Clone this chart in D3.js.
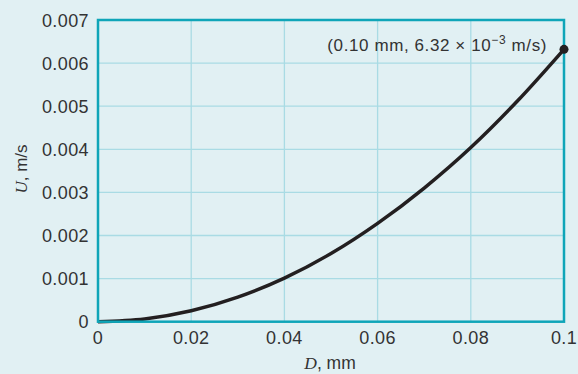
<!DOCTYPE html>
<html><head><meta charset="utf-8">
<script src="https://cdn.jsdelivr.net/npm/d3@7/dist/d3.min.js"></script>
<style>
html,body{margin:0;padding:0;background:#e1f0f3;}
svg{display:block;}
text{font-family:"Liberation Sans",Arial,sans-serif;fill:#333333;}
</style></head>
<body>
<svg id="c" width="578" height="374"></svg>
<script>
const dValues = [0, 0.01, 0.02, 0.03, 0.04, 0.05, 0.06, 0.07, 0.08, 0.09, 0.10];
const uValues = [0, 0.0000632, 0.000253, 0.000569, 0.00101, 0.00158, 0.00228, 0.0031, 0.00404, 0.00512, 0.00632];
const xTicks = [0, 0.02, 0.04, 0.06, 0.08, 0.1];
const xTickLabels = ["0", "0.02", "0.04", "0.06", "0.08", "0.1"];
const yTicks = [0, 0.001, 0.002, 0.003, 0.004, 0.005, 0.006, 0.007];
const yTickLabels = ["0", "0.001", "0.002", "0.003", "0.004", "0.005", "0.006", "0.007"];
const endPoint = {d: 0.10, u: 0.00632};

const svg = d3.select("#c");
svg.append("rect").attr("width",578).attr("height",374).attr("fill","#e1f0f3");
const L=98, T=20, R=564, B=321.7;
const x = d3.scaleLinear().domain([0,0.1]).range([L,R]);
const y = d3.scaleLinear().domain([0,0.007]).range([B,T]);

// grid
const g = svg.append("g");
g.selectAll(".vx").data(xTicks.slice(1,-1)).enter().append("line")
  .attr("x1",d=>x(d)).attr("x2",d=>x(d)).attr("y1",T).attr("y2",B)
  .attr("stroke","#a9dbe4").attr("stroke-width",1.3);
g.selectAll(".hy").data(yTicks.slice(1,-1)).enter().append("line")
  .attr("y1",d=>y(d)).attr("y2",d=>y(d)).attr("x1",L).attr("x2",R)
  .attr("stroke","#a9dbe4").attr("stroke-width",1.3);

// ticks labels
svg.selectAll(".xt").data(xTicks).enter().append("text")
  .attr("x",d=>x(d)).attr("y",344).attr("text-anchor","middle")
  .style("font-size","18px").style("letter-spacing","0.4px")
  .text((d,i)=>xTickLabels[i]);
svg.selectAll(".yt").data(yTicks).enter().append("text")
  .attr("x",89).attr("y",d=>y(d)+6.5).attr("text-anchor","end")
  .style("font-size","18px").style("letter-spacing","0.4px")
  .text((d,i)=>yTickLabels[i]);

// curve
const line = d3.line().x((d,i)=>x(dValues[i])).y(d=>y(d)).curve(d3.curveMonotoneX);
svg.append("path").datum(uValues).attr("d",line).attr("fill","none")
  .attr("stroke","#231f20").attr("stroke-width",3.5);

// frame
svg.append("rect").attr("x",L).attr("y",T).attr("width",R-L).attr("height",B-T)
  .attr("fill","none").attr("stroke","#0fa5b8").attr("stroke-width",2.5);

svg.append("circle").attr("cx",x(endPoint.d)).attr("cy",y(endPoint.u)).attr("r",4.5).attr("fill","#231f20");

// annotation
const ann = svg.append("text").attr("x",547).attr("y",51).attr("text-anchor","end")
  .style("font-size","17px").style("letter-spacing","0.6px");
ann.append("tspan").text("(0.10 mm, 6.32 \u00d7 10");
ann.append("tspan").attr("dy",-7).style("font-size","12px").text("\u22123");
ann.append("tspan").attr("dy",7).text(" m/s)");

// axis titles
const xt = svg.append("text").attr("x",330).attr("y",369).attr("text-anchor","middle").style("font-size","17.5px");
xt.append("tspan").style("font-family","'Liberation Serif','Times New Roman',serif").style("font-style","italic").text("D");
xt.append("tspan").text(", mm");
const yt = svg.append("text").attr("transform","translate(27,169) rotate(-90)").attr("text-anchor","middle").style("font-size","17px");
yt.append("tspan").style("font-family","'Liberation Serif','Times New Roman',serif").style("font-style","italic").text("U");
yt.append("tspan").text(", m/s");
</script>
</body></html>
